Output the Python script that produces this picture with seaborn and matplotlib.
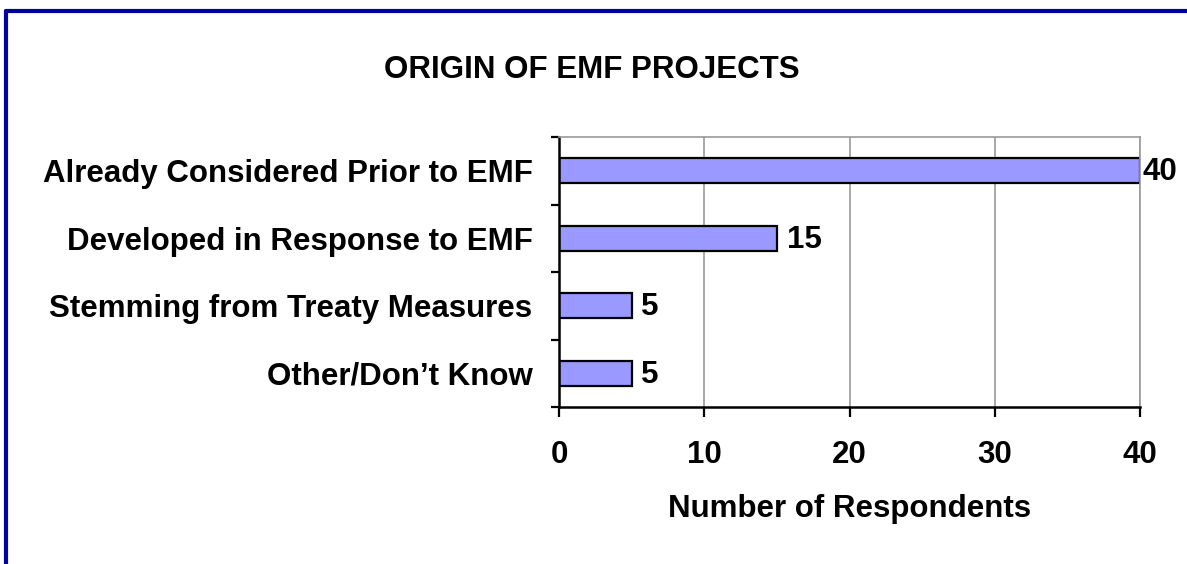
import matplotlib
matplotlib.use("Agg")
import matplotlib.pyplot as plt
import seaborn as sns
import pandas as pd
from matplotlib.lines import Line2D

categories = ["Already Considered Prior to EMF", "Developed in Response to EMF",
              "Stemming from Treaty Measures", "Other/Don\u2019t Know"]
values = [40, 15, 5, 5]
xticks = [0, 10, 20, 30, 40]

sns.set_theme(style="white")
plt.rcParams['font.family'] = ['Liberation Sans', 'DejaVu Sans']
plt.rcParams['font.weight'] = 'bold'
plt.rcParams['text.color'] = 'black'
plt.rcParams['xtick.color'] = 'black'
plt.rcParams['ytick.color'] = 'black'
plt.rcParams['axes.labelcolor'] = 'black'

FS = 22.5

df = pd.DataFrame({"cat": categories, "val": values})

fig = plt.figure(figsize=(11.87, 5.64), dpi=100)
ax = fig.add_axes([559/1187, 1-407/564, (1140-559)/1187, (407-137)/564])

sns.barplot(data=df, x="val", y="cat", orient="h", color="#9999FF",
            edgecolor="black", linewidth=1.6, width=0.37, saturation=1, ax=ax)

ax.set_xlim(0, 40)
ax.set_ylim(3.5, -0.5)
ax.set_xticks(xticks)
ax.set_xticklabels([str(t) for t in xticks], fontsize=FS, fontweight='bold')
ax.xaxis.grid(True, color="#999999", linewidth=1.2)
ax.set_axisbelow(True)
ax.tick_params(axis='x', bottom=True, direction='out', length=7, width=1.6, color='black', pad=17)
ax.set_yticks(range(len(categories)))
ax.set_yticklabels(categories, fontsize=FS, fontweight='bold')
ax.tick_params(axis='y', which='major', left=True, length=0, pad=19)
ax.set_yticks([i - 0.5 for i in range(len(categories) + 1)], minor=True)
ax.tick_params(axis='y', which='minor', left=True, direction='out', length=6, width=1.6, color='black')

for s in ['left', 'bottom']:
    ax.spines[s].set_color('black')
    ax.spines[s].set_linewidth(1.8)
for s in ['top', 'right']:
    ax.spines[s].set_color('#999999')
    ax.spines[s].set_linewidth(1.2)

ax.set_ylabel("")
ax.set_xlabel("Number of Respondents", fontsize=FS, fontweight='bold', labelpad=17)

xmax = ax.get_xlim()[1]
for i, v in enumerate(values):
    off = 1.5 if v >= xmax else 7
    ax.annotate(str(v), xy=(v, i), xytext=(off, -1), textcoords='offset points',
                va='center', ha='left', fontsize=FS, fontweight='bold', annotation_clip=False)

fig.text(592/1187, 1-70/564, "ORIGIN OF EMF PROJECTS", ha='center', va='center',
         fontsize=FS, fontweight='bold')

# frame border (left and top edges)
fig.add_artist(Line2D([6/1187, 6/1187], [0, 1-11/564], transform=fig.transFigure,
                      color='#0000A0', linewidth=3))
fig.add_artist(Line2D([6/1187, 1], [1-11/564, 1-11/564], transform=fig.transFigure,
                      color='#0000A0', linewidth=3))

fig.savefig("out.png", dpi=100)
